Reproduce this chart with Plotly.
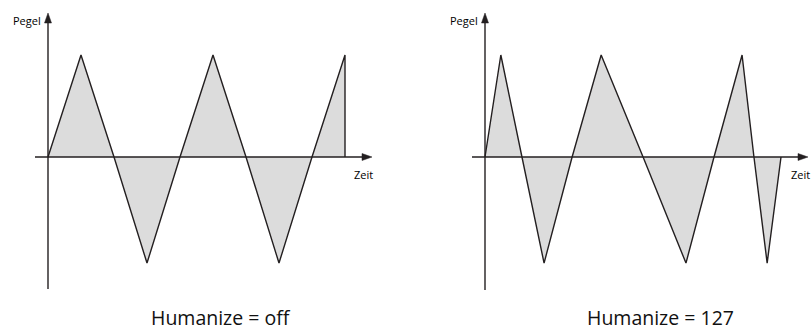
import plotly.graph_objects as go

# ---- data (time in quarter-period units, level in amplitude units) ----
left_time = [0, 1, 2, 3, 4, 5, 6, 7, 8, 9, 9]
left_level = [0, 1.0, 0, -1.04, 0, 1.0, 0, -1.04, 0, 1.0, 0]

right_time = [0, 0.48, 1.12, 1.79, 2.64, 3.52, 4.79, 6.09, 6.94, 7.79, 8.15, 8.55, 8.97]
right_level = [0, 1.0, 0, -1.04, 0, 1.0, 0, -1.04, 0, 1.0, 0, -1.04, 0]

captions = ["Humanize = off", "Humanize = 127"]
y_label = "Pegel"
x_label = "Zeit"

# ---- layout constants ----
W, H = 811, 332
PX_X = 33.0      # pixels per time unit
PX_Y = 102.0     # pixels per level unit
ZERO_Y = 157.0   # pixel row of level 0
ORIG_X = [48.0, 485.0]
SPLIT = 405.5
INK = "#231f20"
FILL = "#dcdcdc"
FONT = "Open Sans"

fig = go.Figure()

xa_names = ["x", "x2"]
ya_names = ["y", "y2"]
series = [(left_time, left_level), (right_time, right_level)]
domains = [(0, SPLIT), (SPLIT, W)]

y_range = [-(H - ZERO_Y) / PX_Y, ZERO_Y / PX_Y]

shapes = []
annotations = []
for i, (t, v) in enumerate(series):
    fig.add_trace(go.Scatter(
        x=t, y=v, mode="lines", fill="tozeroy", fillcolor=FILL,
        line=dict(color=INK, width=1.4), xaxis=xa_names[i], yaxis=ya_names[i],
        showlegend=False, hoverinfo="skip"))
    d0, d1 = domains[i]
    off = ORIG_X[i] - d0
    xr = [-off / PX_X, (d1 - d0 - off) / PX_X]
    key = "xaxis" if i == 0 else "xaxis2"
    ykey = "yaxis" if i == 0 else "yaxis2"
    fig.layout[key] = dict(domain=[d0 / W, d1 / W], range=xr, visible=False,
                           anchor=ya_names[i])
    fig.layout[ykey] = dict(domain=[0, 1], range=y_range, visible=False,
                            anchor=xa_names[i])

    def tx(px):
        return (px - ORIG_X[i]) / PX_X

    def ly(py):
        return (ZERO_Y - py) / PX_Y

    x_end_px = 372 if i == 0 else 808
    y_bot_px = 289 if i == 0 else 290
    # horizontal axis line
    shapes.append(dict(type="line", xref=xa_names[i], yref=ya_names[i],
                       x0=tx(ORIG_X[i] - 13), x1=tx(x_end_px - 6), y0=0, y1=0,
                       line=dict(color=INK, width=1.4)))
    # vertical axis line
    shapes.append(dict(type="line", xref=xa_names[i], yref=ya_names[i],
                       x0=0, x1=0, y0=ly(y_bot_px), y1=ly(19),
                       line=dict(color=INK, width=1.4)))
    # arrow heads (pixel-sized)
    shapes.append(dict(type="path", xref=xa_names[i], yref=ya_names[i],
                       xsizemode="pixel", ysizemode="pixel",
                       xanchor=tx(x_end_px), yanchor=0,
                       path="M0,0 L-10,3.5 L-10,-3.5 Z",
                       fillcolor=INK, line=dict(color=INK, width=0.5)))
    shapes.append(dict(type="path", xref=xa_names[i], yref=ya_names[i],
                       xsizemode="pixel", ysizemode="pixel",
                       xanchor=0, yanchor=ly(13),
                       path="M0,0 L-3.5,-10 L3.5,-10 Z",
                       fillcolor=INK, line=dict(color=INK, width=0.5)))
    # axis labels
    annotations.append(dict(text=y_label, xref=xa_names[i], yref=ya_names[i],
                            x=tx(ORIG_X[i] - 5), y=ly(20), xanchor="right",
                            yanchor="middle", showarrow=False,
                            font=dict(family=FONT, size=11, color="#000")))
    zx = 363 if i == 0 else 800
    annotations.append(dict(text=x_label, xref=xa_names[i], yref=ya_names[i],
                            x=tx(zx), y=ly(174), xanchor="center",
                            yanchor="middle", showarrow=False,
                            font=dict(family=FONT, size=11, color="#000")))
    cx = 221 if i == 0 else 660
    annotations.append(dict(text=captions[i], xref="paper", yref="paper",
                            x=cx / W, y=1 - 317 / H, xanchor="center",
                            yanchor="middle", showarrow=False,
                            font=dict(family=FONT, size=19.5, color="#111")))

fig.update_layout(width=W, height=H, margin=dict(l=0, r=0, t=0, b=0),
                  paper_bgcolor="white", plot_bgcolor="white",
                  shapes=shapes, annotations=annotations)

fig.write_html("out.html", config={"displayModeBar": False},
               post_script="document.body.style.margin='0';")
